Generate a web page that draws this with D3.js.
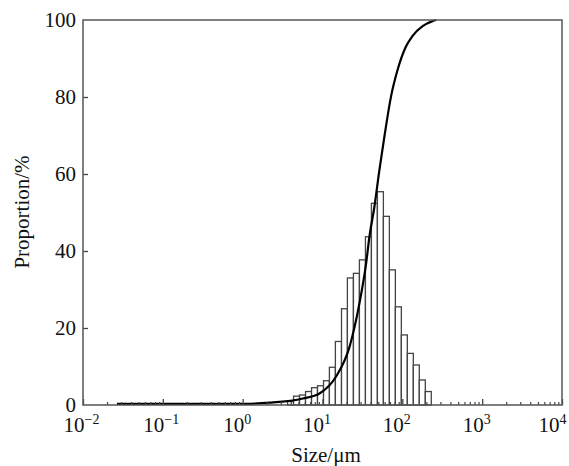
<!DOCTYPE html>
<html>
<head>
<meta charset="utf-8">
<script src="https://cdn.jsdelivr.net/npm/d3@7"></script>
<style>
  body { margin: 0; background: #fff; }
</style>
</head>
<body>
<svg id="chart" width="569" height="466"></svg>
<script>
// Particle size distribution: histogram bins plus cumulative curve.

// bin edges in µm (log-spaced)
const binEdges = [3.65, 4.34, 5.16, 6.13, 7.29, 8.66, 10.3, 12.2, 14.5, 17.3, 20.5, 24.4,
    29.0, 34.5, 41.0, 48.7, 57.9, 68.8, 81.8, 97.2, 115.5, 137.3, 163.1, 193.9, 230.4];
// bar heights, %
const binValues = [0.9, 2.3, 2.6, 3.5, 4.5, 5.0, 6.3, 9.8, 16.5, 25.0, 33.0, 34.2,
    37.7, 43.7, 52.4, 55.4, 49.0, 35.1, 25.5, 18.2, 13.4, 10.4, 6.5, 3.5];

// cumulative curve
const cumSizes = [0.0266, 0.1, 1, 2.19, 5.68, 9.17, 14.8, 21.8, 29.0, 35.2, 38.7, 44.7,
    51.6, 59.6, 72.1, 87.1, 111, 134.6, 179.5, 239, 266];
const cumValues = [0.3, 0.3, 0.3, 0.6, 1.7, 3.0, 7.4, 15.1, 26.4, 36.8, 43.7, 51.5,
    61.0, 69.7, 80.1, 87.0, 93.1, 95.9, 98.4, 99.7, 100];

const xMajor = [1e-2, 1e-1, 1e0, 1e1, 1e2, 1e3, 1e4];
const xExponents = ["−2", "−1", "0", "1", "2", "3", "4"];
const xMinor = [2, 3, 4, 5, 6, 7, 8, 9];
const yTicks = [0, 20, 40, 60, 80, 100];

const serif = '"Liberation Serif", "Times New Roman", Times, serif';

const margin = { top: 20, right: 7, bottom: 61, left: 83 };
const width = 569 - margin.left - margin.right;
const height = 466 - margin.top - margin.bottom;

const svg = d3.select("#chart");
const g = svg.append("g").attr("transform", `translate(${margin.left},${margin.top})`);

const x = d3.scaleLog().domain([1e-2, 1e4]).range([0, width]);
const y = d3.scaleLinear().domain([0, 100]).range([height, 0]);

const bars = binValues.map((v, i) => ({ x0: binEdges[i], x1: binEdges[i + 1], value: v }));

g.selectAll("rect.bar")
    .data(bars)
    .enter()
    .append("rect")
    .attr("class", "bar")
    .attr("x", d => x(d.x0))
    .attr("y", d => y(d.value))
    .attr("width", d => x(d.x1) - x(d.x0))
    .attr("height", d => height - y(d.value))
    .attr("fill", "#fff")
    .attr("stroke", "#444")
    .attr("stroke-width", 1.3);

const line = d3.line()
    .x(d => x(d[0]))
    .y(d => y(d[1]))
    .curve(d3.curveMonotoneX);

g.append("path")
    .datum(cumSizes.map((s, i) => [s, cumValues[i]]))
    .attr("d", line)
    .attr("fill", "none")
    .attr("stroke", "#000")
    .attr("stroke-width", 2.2);

// minor x ticks
const minors = [];
xMajor.slice(0, -1).forEach(m => xMinor.forEach(k => minors.push(m * k)));

g.append("g")
    .attr("transform", `translate(0,${height})`)
    .call(d3.axisBottom(x).tickValues(minors).tickFormat("").tickSizeInner(-3).tickSizeOuter(0))
    .call(a => a.select(".domain").remove())
    .selectAll("line").attr("stroke", "#444").attr("stroke-width", 1.2);

// major x ticks, labels as 10 with superscript exponent
const xAxis = g.append("g")
    .attr("transform", `translate(0,${height})`)
    .call(d3.axisBottom(x).tickValues(xMajor).tickFormat("").tickSizeInner(-6).tickSizeOuter(0).tickPadding(8));
xAxis.select(".domain").remove();
xAxis.selectAll("line").attr("stroke", "#444").attr("stroke-width", 1.3);
xAxis.selectAll(".tick text")
    .attr("font-family", serif)
    .attr("font-size", 21)
    .attr("fill", "#111")
    .attr("text-anchor", "start")
    .attr("x", (d, i) => i === xMajor.length - 1 ? -24 : -20)
    .attr("dy", "0.9em")
    .each(function (d, i) {
        const t = d3.select(this);
        t.text("10");
        t.append("tspan").attr("dy", "-0.55em").attr("font-size", 14).text(xExponents[i]);
    });

// y axis
const yAxis = g.append("g")
    .call(d3.axisLeft(y).tickValues(yTicks).tickSizeInner(-5).tickSizeOuter(0).tickPadding(8));
yAxis.select(".domain").remove();
yAxis.selectAll("line").attr("stroke", "#444").attr("stroke-width", 1.3);
yAxis.selectAll(".tick text")
    .attr("font-family", serif)
    .attr("font-size", 21)
    .attr("fill", "#111")
    .attr("x", -7);
yAxis.selectAll(".tick").filter(d => d === 0 || d === 100).select("line").remove();

// frame
g.append("rect")
    .attr("width", width)
    .attr("height", height)
    .attr("fill", "none")
    .attr("stroke", "#555")
    .attr("stroke-width", 1.5);

g.append("text")
    .attr("x", 326 - margin.left)
    .attr("y", height + 57)
    .attr("text-anchor", "middle")
    .attr("font-family", serif)
    .attr("font-size", 21)
    .attr("fill", "#111")
    .text("Size/μm");

g.append("text")
    .attr("transform", `translate(${29 - margin.left},${212 - margin.top}) rotate(-90)`)
    .attr("text-anchor", "middle")
    .attr("font-family", serif)
    .attr("font-size", 21)
    .attr("fill", "#111")
    .text("Proportion/%");
</script>
</body>
</html>
